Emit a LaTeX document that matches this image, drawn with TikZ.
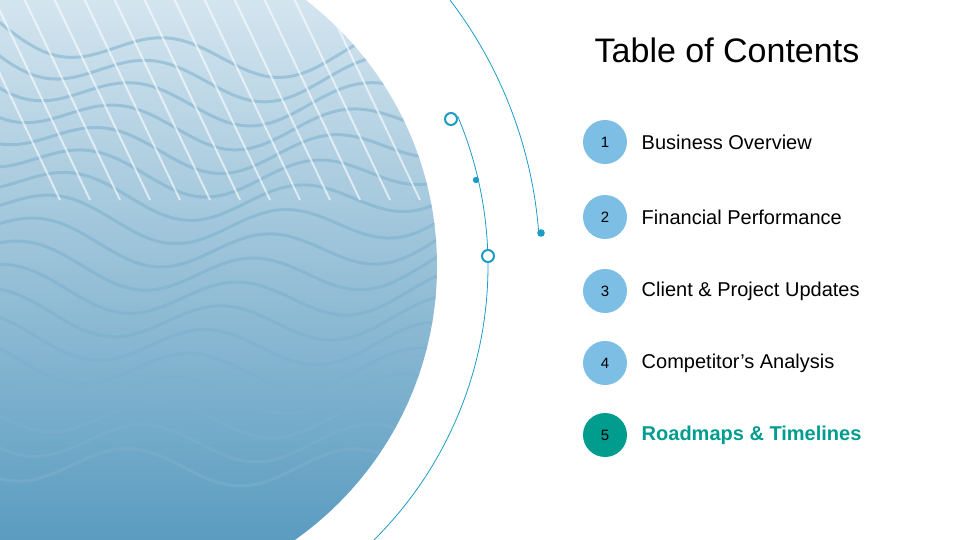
\documentclass[tikz,border=0pt]{standalone}
\usepackage{fontspec}
\setmainfont{Liberation Sans}
\usetikzlibrary{positioning}
\definecolor{arcblue}{HTML}{1C9CC4}
\definecolor{numblue}{HTML}{7DBEE4}
\definecolor{tealc}{HTML}{009C8E}
\definecolor{photolight}{HTML}{E3EEF5}
\definecolor{photodark}{HTML}{5B9CC0}
\tikzset{
  num/.style={circle,fill=numblue,minimum size=44pt,inner sep=0pt,font=\fontsize{15}{15}\selectfont},
  item/.style={right=11pt of #1,font=\fontsize{20}{20}\selectfont,anchor=west},
  ring/.style={draw=arcblue,line width=2pt,fill=white},
}
\begin{document}
\begin{tikzpicture}[x=1pt,y=-1pt]
\useasboundingbox (0,0) rectangle (960,540);
% photo
\begin{scope}
\clip (102,266) circle (335);
\shade[top color=photolight,bottom color=photodark] (-10,-70) rectangle (440,540);
\foreach \k in {0,...,17} {
  \draw[photodark!80,line width=3pt,opacity=0.55,domain=-10:440,samples=60,variable=\t]
    plot ({\t},{60+\k*24+18*sin(\t*1.6+\k*25)-0.0006*(\t-250)*(\t-250)*(1-\k/20)});
}
\foreach \k in {0,...,14} {
  \draw[white,line width=2pt,opacity=0.6] (\k*30-40,-10) -- (\k*30+60,200);
}
\end{scope}
% arcs
\draw[arcblue,line width=0.8pt] (102,266) ++(-22.8:386) arc (-22.8:46:386);
\draw[arcblue,line width=0.8pt] (102,266) ++(-37.4:438) arc (-37.4:-4.3:438);
\node[ring,circle,minimum size=12pt,inner sep=0pt] (r1) at (451,119) {};
\node[ring,circle,minimum size=12pt,inner sep=0pt] (r2) at (488,256) {};
\fill[arcblue] (476,180) circle (3.2);
\fill[arcblue] (541,233) circle (3.8);
% contents
\node[font=\fontsize{34}{34}\selectfont] (title) at (727,50) {Table of Contents};
\node[num] (n1) at (605,142) {1};
\node[num] (n2) at (605,217) {2};
\node[num] (n3) at (605,291) {3};
\node[num] (n4) at (605,363) {4};
\node[num,fill=tealc] (n5) at (605,435) {5};
\node[item=n1] {Business Overview};
\node[item=n2] {Financial Performance};
\node[item=n3] {Client \& Project Updates};
\node[item=n4] {Competitor’s Analysis};
\node[item=n5,text=tealc,font=\fontsize{20}{20}\selectfont\bfseries] {Roadmaps \& Timelines};
\end{tikzpicture}
\end{document}
